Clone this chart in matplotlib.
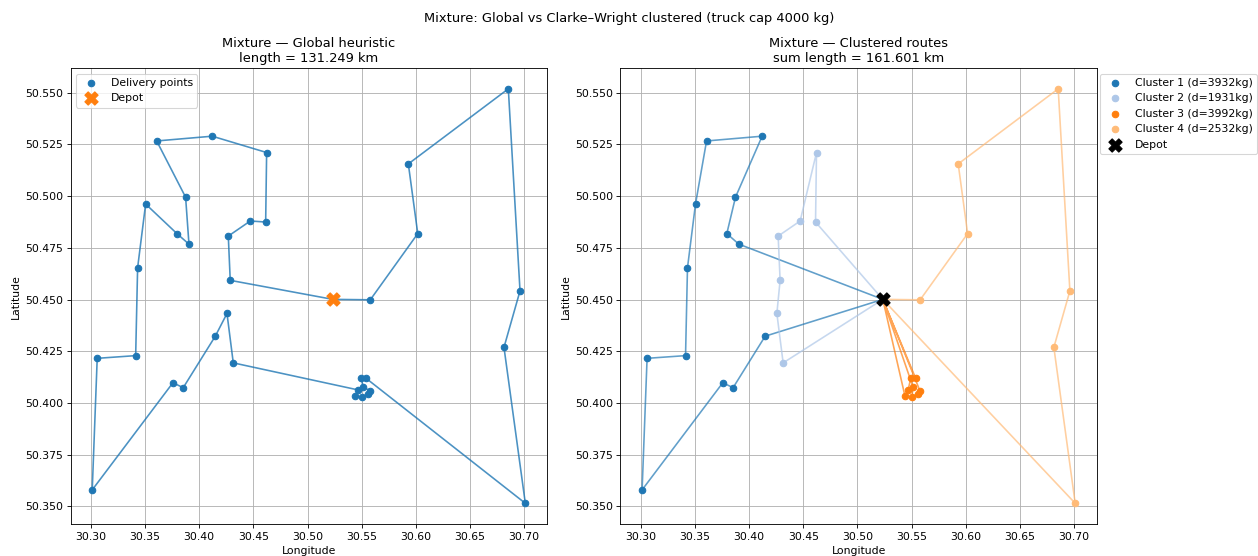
import matplotlib
matplotlib.use("Agg")
import matplotlib.pyplot as plt

# depot (lon, lat)
depot_lon, depot_lat = 30.5234, 50.4501

# delivery points
lon = [30.3607, 30.4120, 30.4622, 30.4613, 30.4471, 30.4268, 30.4286, 30.3874,
       30.3905, 30.3794, 30.3505, 30.3431, 30.3413, 30.3058, 30.3012, 30.3757,
       30.3852, 30.4148, 30.4256, 30.4314, 30.5579, 30.6017, 30.5930, 30.6853,
       30.6961, 30.6813, 30.7010,
       30.5493, 30.5536, 30.5468, 30.5438, 30.5500, 30.5560, 30.5576, 30.5514]
lat = [50.5267, 50.5290, 50.5211, 50.4875, 50.4880, 50.4807, 50.4593, 50.4995,
       50.4768, 50.4819, 50.4962, 50.4654, 50.4229, 50.4216, 50.3580, 50.4098,
       50.4074, 50.4323, 50.4433, 50.4194, 50.4499, 50.4819, 50.5156, 50.5519,
       50.4542, 50.4269, 50.3515,
       50.4123, 50.4121, 50.4063, 50.4035, 50.4027, 50.4044, 50.4060, 50.4076]

# -1 stands for the depot
global_route = [-1, 20, 21, 22, 23, 24, 25, 26, 28, 27, 34, 33, 32, 31, 30, 29,
                19, 18, 17, 16, 15, 14, 13, 12, 11, 10, 9, 8, 7, 0, 1, 2, 3, 4, 5, 6, -1]
global_length = 131.249

cluster_routes = [
    [-1, 8, 9, 7, 1, 0, 10, 11, 12, 13, 14, 15, 16, 17, -1],
    [-1, 3, 2, 4, 5, 6, 18, 19, -1],
    [-1, 28, 27, 29, 30, -1, 34, 31, 32, 33, -1],
    [-1, 20, 21, 22, 23, 24, 25, 26, -1],
]
cluster_demand = [3932, 1931, 3992, 2532]
cluster_colors = ['#1f77b4', '#aec7e8', '#ff7f0e', '#ffbb78']
clustered_length = 161.601


def coords(route):
    xs = [depot_lon if i < 0 else lon[i] for i in route]
    ys = [depot_lat if i < 0 else lat[i] for i in route]
    return xs, ys


fig = plt.figure(figsize=(1258 / 78, 556 / 78), dpi=78)
ax1 = fig.add_axes([0.0561, 0.0575, 0.3787, 0.8200])
ax2 = fig.add_axes([0.4932, 0.0575, 0.3787, 0.8200])

# global heuristic tour
gx, gy = coords(global_route)
ax1.plot(gx, gy, '-', color='#1f77b4', alpha=0.8, linewidth=1.5)
ax1.scatter(lon, lat, s=36, color='#1f77b4', label='Delivery points', zorder=3)
ax1.scatter([depot_lon], [depot_lat], s=150, marker='X', color='#ff7f0e', label='Depot', zorder=4)
ax1.set_title(f'Mixture — Global heuristic\nlength = {global_length:.3f} km')
ax1.set_xlabel('Longitude')
ax1.set_ylabel('Latitude')
ax1.grid(True)
ax1.legend(loc='upper left')

# clustered routes
for k, route in enumerate(cluster_routes):
    rx, ry = coords(route)
    pts = [i for i in route if i >= 0]
    ax2.plot(rx, ry, '-', color=cluster_colors[k], alpha=0.7, linewidth=1.5)
    ax2.scatter([lon[i] for i in pts], [lat[i] for i in pts], s=36, color=cluster_colors[k],
                label=f'Cluster {k + 1} (d={cluster_demand[k]}kg)', zorder=3)
ax2.scatter([depot_lon], [depot_lat], s=150, marker='X', color='black', label='Depot', zorder=4)
ax2.set_title(f'Mixture — Clustered routes\nsum length = {clustered_length:.3f} km')
ax2.set_xlabel('Longitude')
ax2.set_ylabel('Latitude')
ax2.grid(True)
ax2.legend(loc='upper left', bbox_to_anchor=(0.995, 1.0))

for ax in (ax1, ax2):
    ax.yaxis.set_major_formatter(matplotlib.ticker.FormatStrFormatter('%.3f'))
    ax.xaxis.set_major_formatter(matplotlib.ticker.FormatStrFormatter('%.2f'))

fig.suptitle('Mixture: Global vs Clarke–Wright clustered (truck cap 4000 kg)', y=0.967, va='center')
fig.savefig('out.png', dpi=78)
